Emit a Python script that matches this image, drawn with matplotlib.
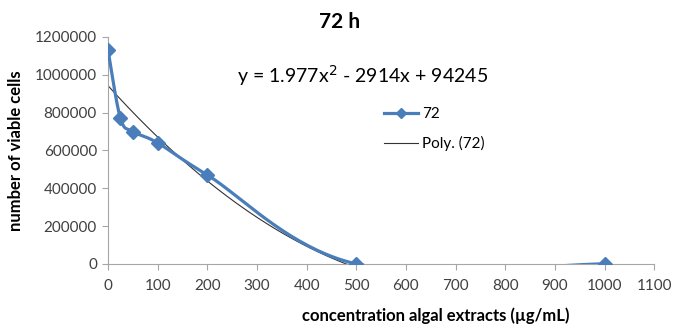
#!/usr/bin/env python3
"""Viable cells vs algal extract concentration at 72 h, with a 2nd-order trendline."""

import matplotlib
matplotlib.use("Agg")
import matplotlib.pyplot as plt
import matplotlib.ticker as mticker
from matplotlib.lines import Line2D
import numpy as np

# --------------------------------------------------------------------------- #
# Data
# --------------------------------------------------------------------------- #

conc = [0, 25, 50, 100, 200, 500, 1000]
cells = [1130000, 770000, 700000, 640000, 470000, 0, 0]
series_label = "72"
trend_label = "Poly. (72)"
equation = "y = 1.977x$^2$ - 2914x + 94245"

x_ticks = list(range(0, 1101, 100))
y_ticks = list(range(0, 1200001, 200000))

BLUE = "#4A7EBB"
GRAY_AXIS = "#A6A6A6"
TEXT = "#404040"

plt.rcParams["font.family"] = ["Lato", "DejaVu Sans"]


def smooth_curve(x, y, sx, sy, n=40):
    """Excel-like smoothed line: cubic Bezier with Catmull-Rom style control points,
    computed in screen-proportional space (sx, sy = pixels per data unit)."""
    px = np.asarray(x, float) * sx
    py = np.asarray(y, float) * sy
    pts = np.column_stack([px, py])
    out = []
    for i in range(len(pts) - 1):
        p0 = pts[max(i - 1, 0)]
        p1 = pts[i]
        p2 = pts[i + 1]
        p3 = pts[min(i + 2, len(pts) - 1)]
        c1 = p1 + (p2 - p0) / 6.0
        c2 = p2 - (p3 - p1) / 6.0
        t = np.linspace(0, 1, n)[:, None]
        seg = ((1 - t) ** 3) * p1 + 3 * ((1 - t) ** 2) * t * c1 \
            + 3 * (1 - t) * t ** 2 * c2 + t ** 3 * p2
        out.append(seg if i == 0 else seg[1:])
    out = np.vstack(out)
    return out[:, 0] / sx, out[:, 1] / sy


fig = plt.figure(figsize=(6.73, 3.27), dpi=100)
ax = fig.add_axes([0.1605, 0.193, 0.8115, 0.694])

# pixels per data unit, for the smoothing
ax_w = 0.8115 * 673
ax_h = 0.694 * 327
sx = ax_w / 1100.0
sy = ax_h / 1200000.0

xs, ys = smooth_curve(conc, cells, sx, sy)
ax.plot(xs, ys, color=BLUE, linewidth=2.3, zorder=3, solid_capstyle="round")
ax.plot(conc, cells, linestyle="none", marker="D", markersize=7,
        color=BLUE, zorder=4)

# polynomial trendline (order 2) fitted to the series
coef = np.polyfit(conc, cells, 2)
xt = np.linspace(min(conc), max(conc), 400)
ax.plot(xt, np.polyval(coef, xt), color="#333333", linewidth=0.8, zorder=2)

ax.set_xlim(0, 1100)
ax.set_ylim(0, 1200000)
ax.set_xticks(x_ticks)
ax.set_yticks(y_ticks)
ax.yaxis.set_major_formatter(mticker.FuncFormatter(lambda v, _: f"{int(v)}"))
ax.tick_params(axis="both", labelsize=11, colors=GRAY_AXIS, labelcolor=TEXT,
               direction="out", length=4, width=0.8)
ax.tick_params(axis="x", pad=7)
ax.tick_params(axis="y", pad=4)
ax.spines[["top", "right"]].set_visible(False)
for s in ("left", "bottom"):
    ax.spines[s].set_color(GRAY_AXIS)
    ax.spines[s].set_linewidth(0.8)

ax.set_xlabel("concentration algal extracts (µg/mL)", fontsize=12,
              fontweight="bold", color="black")
ax.xaxis.set_label_coords(0.60, -0.19)
ax.set_ylabel("number of viable cells", fontsize=12, fontweight="bold",
              color="black", labelpad=8)

fig.text(0.505, 0.932, "72 h", ha="center", va="center", fontsize=15,
         fontweight="bold")
fig.text(0.538, 0.77, equation, ha="center", va="center", fontsize=14,
         color="black")

# legend
handles = [
    Line2D([0], [0], color=BLUE, linewidth=2.3, marker="D", markersize=5),
    Line2D([0], [0], color="#333333", linewidth=0.8),
]
fig.legend(handles, [series_label, trend_label], loc="upper left",
           bbox_to_anchor=(0.55, 0.715), frameon=False, fontsize=11,
           handlelength=2.2, labelspacing=1.0, handletextpad=0.3)

fig.savefig("out.png", dpi=100)
